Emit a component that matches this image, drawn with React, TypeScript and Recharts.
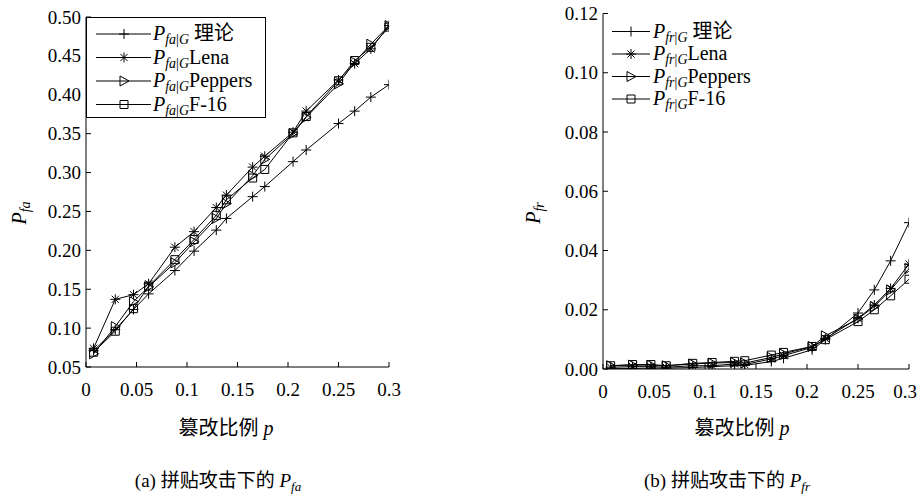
import { LineChart, Line, XAxis, YAxis, Legend } from 'recharts';

const FONT = "'Liberation Serif', 'Times New Roman', 'Noto Sans CJK SC', serif";

// tamper ratio p
const P = [0.0075, 0.029, 0.047, 0.062, 0.088, 0.107, 0.129, 0.139, 0.165, 0.177, 0.205, 0.218, 0.25, 0.266, 0.282, 0.3];

// (a) P_fa
const FA_THEORY = [0.071, 0.098, 0.124, 0.144, 0.174, 0.199, 0.226, 0.241, 0.269, 0.282, 0.314, 0.329, 0.363, 0.379, 0.397, 0.413];
const FA_LENA = [0.074, 0.137, 0.143, 0.157, 0.204, 0.224, 0.255, 0.271, 0.307, 0.321, 0.352, 0.379, 0.419, 0.44, 0.459, 0.489];
const FA_PEPPERS = [0.067, 0.102, 0.134, 0.153, 0.184, 0.211, 0.241, 0.26, 0.296, 0.317, 0.35, 0.371, 0.414, 0.442, 0.465, 0.489];
const FA_F16 = [0.069, 0.096, 0.125, 0.154, 0.188, 0.214, 0.245, 0.265, 0.293, 0.304, 0.351, 0.372, 0.418, 0.444, 0.461, 0.487];

// (b) P_fr
const FR_THEORY = [0.0002, 0.0002, 0.0003, 0.0003, 0.0005, 0.0008, 0.0011, 0.0012, 0.0025, 0.0036, 0.0065, 0.0099, 0.0189, 0.0267, 0.0365, 0.0494];
const FR_LENA = [0.0006, 0.0008, 0.0008, 0.0006, 0.0011, 0.0011, 0.0017, 0.0015, 0.0034, 0.0045, 0.0073, 0.0103, 0.0171, 0.0216, 0.0272, 0.0354];
const FR_PEPPERS = [0.0011, 0.0013, 0.0013, 0.0011, 0.0017, 0.002, 0.0022, 0.002, 0.0039, 0.0051, 0.0076, 0.0112, 0.0169, 0.0211, 0.0267, 0.0339];
const FR_F16 = [0.0011, 0.0015, 0.0015, 0.0011, 0.0019, 0.0022, 0.0026, 0.0028, 0.0047, 0.0056, 0.0076, 0.0099, 0.016, 0.02, 0.0247, 0.0303];

const X_TICKS = [0, 0.05, 0.1, 0.15, 0.2, 0.25, 0.3];
const FA_TICKS = [0.05, 0.1, 0.15, 0.2, 0.25, 0.3, 0.35, 0.4, 0.45, 0.5];
const FR_TICKS = [0, 0.02, 0.04, 0.06, 0.08, 0.1, 0.12];

const SERIES = [
  { key: 'theory', label: ' 理论', marker: 'plus' },
  { key: 'lena', label: 'Lena', marker: 'star' },
  { key: 'peppers', label: 'Peppers', marker: 'tri' },
  { key: 'f16', label: 'F-16', marker: 'square' },
];

const faRows = P.map((p, i) => ({ p, theory: FA_THEORY[i], lena: FA_LENA[i], peppers: FA_PEPPERS[i], f16: FA_F16[i] }));
const frRows = P.map((p, i) => ({ p, theory: FR_THEORY[i], lena: FR_LENA[i], peppers: FR_PEPPERS[i], f16: FR_F16[i] }));

function Marker({ type, cx, cy }: { type: string; cx: number; cy: number }) {
  const s = 5;
  let d = '';
  if (type === 'plus') d = `M${cx - s},${cy}H${cx + s}M${cx},${cy - s}V${cy + s}`;
  else if (type === 'star') {
    const k = s * 0.72;
    d = `M${cx - s},${cy}H${cx + s}M${cx},${cy - s}V${cy + s}M${cx - k},${cy - k}L${cx + k},${cy + k}M${cx - k},${cy + k}L${cx + k},${cy - k}`;
  } else if (type === 'tri') d = `M${cx - 4},${cy - 5}L${cx + 5},${cy}L${cx - 4},${cy + 5}Z`;
  else d = `M${cx - 4},${cy - 4}H${cx + 4}V${cy + 4}H${cx - 4}Z`;
  return <path d={d} stroke="#000" strokeWidth={1} fill="none" />;
}

const dotFor = (key: string, type: string) => (props: any) =>
  props.cx == null ? <g key={`${key}-${props.index}`} /> : (
    <g key={`${key}-${props.index}`}>
      <Marker type={type} cx={props.cx} cy={props.cy} />
    </g>
  );

// keeps the last label of the right panel inside the page
const makeBottomTick = (maxX: number) => (props: any) => {
  const { x, y, payload } = props;
  const atEdge = x + 13 > maxX;
  return (
    <g>
      <line x1={x} x2={x} y1={y} y2={y - 5} stroke="#000" />
      <text
        x={atEdge ? maxX : x}
        y={y + 29}
        textAnchor={atEdge ? 'end' : 'middle'}
        fontSize={19}
        fontFamily={FONT}
        fill="#000"
      >
        {payload.value}
      </text>
    </g>
  );
};

const TopTick = (props: any) => {
  const { x, y } = props;
  return <line x1={x} x2={x} y1={y} y2={y + 5} stroke="#000" />;
};

const LeftTick = (props: any) => {
  const { x, y, payload } = props;
  return (
    <g>
      <line x1={x} x2={x + 5} y1={y} y2={y} stroke="#000" />
      <text x={x - 5} y={y + 6.5} textAnchor="end" fontSize={19} fontFamily={FONT} fill="#000">
        {payload.value.toFixed(2)}
      </text>
    </g>
  );
};

const RightTick = (props: any) => {
  const { x, y } = props;
  return <line x1={x} x2={x - 5} y1={y} y2={y} stroke="#000" />;
};

function PSub({ sub, size = 20 }: { sub: string; size?: number }) {
  const [a, b] = sub.split('|');
  const ss = Math.round(size * 0.68);
  return (
    <>
      <tspan fontStyle="italic">P</tspan>
      <tspan fontStyle="italic" fontSize={ss} dy={4}>{a}</tspan>
      <tspan fontSize={ss}>|</tspan>
      <tspan fontStyle="italic" fontSize={ss}>{b}</tspan>
    </>
  );
}

function makeLegend(sub: string, boxed: boolean) {
  const rows = boxed ? [17, 40.5, 64, 87.5] : [18.5, 41, 63.5, 86];
  const lx = boxed ? [10, 65, 38, 67] : [9, 47, 28, 50];
  return () => (
    <svg width={boxed ? 180 : 200} height={101} style={{ display: 'block' }}>
      {boxed && <rect x={0.5} y={0.5} width={179} height={100} fill="#fff" stroke="#000" />}
      {SERIES.map((s, i) => (
        <g key={s.key}>
          <line x1={lx[0]} x2={lx[1]} y1={rows[i]} y2={rows[i]} stroke="#000" />
          <Marker type={s.marker} cx={lx[2]} cy={rows[i]} />
          <text x={lx[3]} y={rows[i] + 6} fontSize={20} fontFamily={FONT} fill="#000">
            <PSub sub={sub} />
            <tspan dy={-4}>{s.label}</tspan>
          </text>
        </g>
      ))}
    </svg>
  );
}

function Panel(props: {
  rows: any[];
  width: number;
  height: number;
  margin: any;
  yDomain: number[];
  yTicks: number[];
  sub: string;
  boxed: boolean;
  legendPos: { left: number; top: number };
}) {
  const { rows, width, height, margin, yDomain, yTicks, sub, boxed, legendPos } = props;
  return (
    <LineChart width={width} height={height} data={rows} margin={margin}>
      <XAxis
        dataKey="p"
        type="number"
        domain={[0, 0.3]}
        ticks={X_TICKS}
        interval={0}
        allowDataOverflow
        height={30}
        tickLine={false}
        tickSize={0}
        tickMargin={0}
        tick={makeBottomTick(width - 1)}
        axisLine={{ stroke: '#000' }}
      />
      <XAxis
        xAxisId="top"
        orientation="top"
        type="number"
        domain={[0, 0.3]}
        ticks={X_TICKS}
        interval={0}
        allowDataOverflow
        height={0}
        tickLine={false}
        tickSize={0}
        tickMargin={0}
        tick={TopTick}
        axisLine={{ stroke: '#000' }}
      />
      <YAxis
        type="number"
        domain={yDomain}
        ticks={yTicks}
        interval={0}
        allowDataOverflow
        width={60}
        tickLine={false}
        tickSize={0}
        tickMargin={0}
        tick={LeftTick}
        axisLine={{ stroke: '#000' }}
      />
      <YAxis
        yAxisId="right"
        orientation="right"
        type="number"
        domain={yDomain}
        ticks={yTicks}
        interval={0}
        allowDataOverflow
        width={0}
        tickLine={false}
        tickSize={0}
        tickMargin={0}
        tick={RightTick}
        axisLine={{ stroke: '#000' }}
      />
      {SERIES.map((s) => (
        <Line
          key={s.key}
          dataKey={s.key}
          stroke="#000"
          strokeWidth={1}
          dot={dotFor(s.key, s.marker)}
          activeDot={false}
          isAnimationActive={false}
        />
      ))}
      <Legend
        layout="vertical"
        align="center"
        verticalAlign="middle"
        content={makeLegend(sub, boxed)}
        wrapperStyle={{ left: legendPos.left, top: legendPos.top, width: 'auto', height: 'auto' }}
      />
    </LineChart>
  );
}

export default function App() {
  return (
    <div style={{ position: 'absolute', left: 0, top: 0, width: 918, height: 496, background: '#fff', fontFamily: FONT, overflow: 'hidden' }}>
      <div style={{ position: 'absolute', left: 0, top: 0 }}>
        <Panel
          rows={faRows}
          width={430}
          height={430}
          margin={{ top: 17, left: 26, right: 41, bottom: 33 }}
          yDomain={[0.05, 0.5]}
          yTicks={FA_TICKS}
          sub="fa|G"
          boxed
          legendPos={{ left: 86, top: 17 }}
        />
      </div>
      <div style={{ position: 'absolute', left: 500, top: 0 }}>
        <Panel
          rows={frRows}
          width={418}
          height={430}
          margin={{ top: 13.5, left: 43, right: 9, bottom: 31 }}
          yDomain={[0, 0.12]}
          yTicks={FR_TICKS}
          sub="fr|G"
          boxed={false}
          legendPos={{ left: 103, top: 13 }}
        />
      </div>
      <svg width={918} height={496} style={{ position: 'absolute', left: 0, top: 0, pointerEvents: 'none' }}>
        <g fontFamily={FONT} fill="#000">
          <text transform="translate(26,213) rotate(-90)" textAnchor="middle" fontSize={20}>
            <tspan fontStyle="italic">P</tspan>
            <tspan fontStyle="italic" fontSize={14} dy={4}>fa</tspan>
          </text>
          <text transform="translate(540,213) rotate(-90)" textAnchor="middle" fontSize={20}>
            <tspan fontStyle="italic">P</tspan>
            <tspan fontStyle="italic" fontSize={14} dy={4}>fr</tspan>
          </text>
          <text x={226} y={435} textAnchor="middle" fontSize={20}>
            篡改比例 <tspan fontStyle="italic">p</tspan>
          </text>
          <text x={742} y={435} textAnchor="middle" fontSize={20}>
            篡改比例 <tspan fontStyle="italic">p</tspan>
          </text>
          <text x={218} y={487} textAnchor="middle" fontSize={19}>
            (a) 拼贴攻击下的 <tspan fontStyle="italic">P</tspan>
            <tspan fontStyle="italic" fontSize={13} dy={4}>fa</tspan>
          </text>
          <text x={727} y={487} textAnchor="middle" fontSize={19}>
            (b) 拼贴攻击下的 <tspan fontStyle="italic">P</tspan>
            <tspan fontStyle="italic" fontSize={13} dy={4}>fr</tspan>
          </text>
        </g>
      </svg>
    </div>
  );
}
